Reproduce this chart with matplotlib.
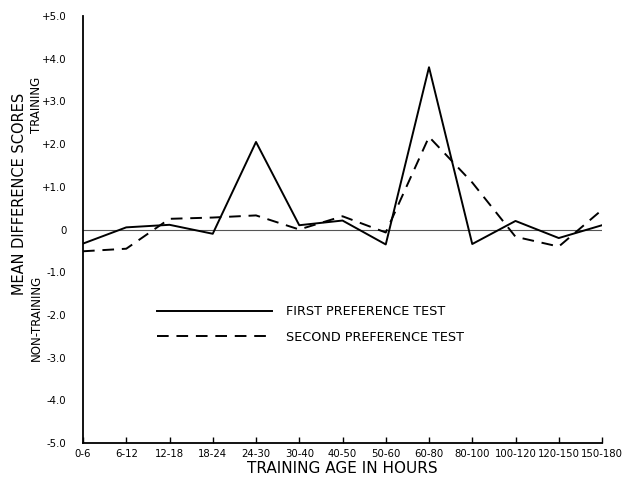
import numpy as np
import matplotlib
matplotlib.use("Agg")
import matplotlib.pyplot as plt

# training age groups (hours)
ages = ["0-6", "6-12", "12-18", "18-24", "24-30", "30-40", "40-50", "50-60",
        "60-80", "80-100", "100-120", "120-150", "150-180"]
first_test = [-0.33, 0.05, 0.11, -0.10, 2.05, 0.10, 0.21, -0.35, 3.80,
              -0.34, 0.20, -0.20, 0.10]
second_test = [-0.51, -0.45, 0.25, 0.28, 0.33, 0.00, 0.31, -0.07, 2.17,
               1.10, -0.17, -0.40, 0.46]
yticks = [5, 4, 3, 2, 1, 0, -1, -2, -3, -4, -5]
ylabels = ["+5.0", "+4.0", "+3.0", "+2.0", "+1.0", "0", "-1.0", "-2.0",
           "-3.0", "-4.0", "-5.0"]

plt.rcParams['font.family'] = ['DejaVu Sans']

fig = plt.figure(figsize=(6.22, 4.8), dpi=100)
ax = fig.add_axes([83/622, 37/480, (602-83)/622, (443-16)/480])

x = np.arange(len(ages))
ax.axhline(0, color="#555555", lw=0.8, zorder=1)
l1, = ax.plot(x, first_test, color="black", lw=1.4, label="FIRST PREFERENCE TEST")
l2, = ax.plot(x, second_test, color="black", lw=1.4, dashes=(6, 4),
              label="SECOND PREFERENCE TEST")

ax.set_xlim(0, len(ages) - 1)
ax.set_ylim(-5, 5)
ax.spines['top'].set_visible(False)
ax.spines['right'].set_visible(False)
ax.spines['left'].set_linewidth(1.3)
ax.spines['bottom'].set_linewidth(1.3)

ax.set_xticks(x)
ax.set_xticklabels(ages, fontsize=7.3)
ax.tick_params(axis='x', direction='in', length=4, width=1, pad=4)
ax.set_yticks(yticks)
ax.set_yticklabels(ylabels, fontsize=7.3)
ax.tick_params(axis='y', length=0, pad=12)

ax.set_xlabel("TRAINING AGE IN HOURS", fontsize=11, labelpad=2)
fig.text(20/622, 1 - 194/480, "MEAN DIFFERENCE SCORES", rotation=90,
         fontsize=10.5, ha="center", va="center")
fig.text(36/622, 1 - 105/480, "TRAINING", rotation=90, fontsize=8.5,
         ha="center", va="center")
fig.text(36/622, 1 - 318/480, "NON-TRAINING", rotation=90, fontsize=8.5,
         ha="center", va="center")

leg = ax.legend(handles=[l1, l2], loc="upper left",
                bbox_to_anchor=((152-83)/519, (443-300)/427),
                frameon=False, fontsize=9.2, handlelength=9.0, handletextpad=1.1,
                labelspacing=1.0, borderaxespad=0)

fig.savefig("out.png", dpi=100)
